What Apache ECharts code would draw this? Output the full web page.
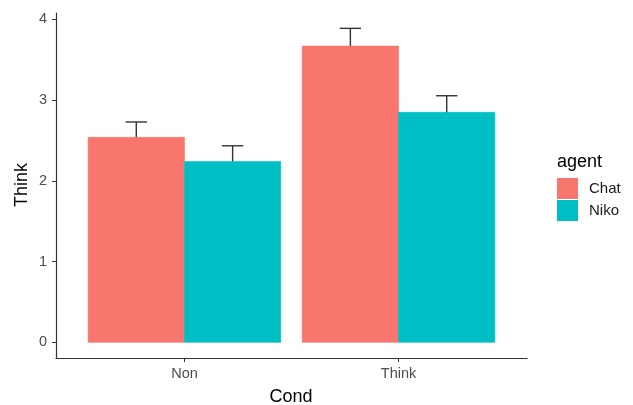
<!DOCTYPE html>
<html>
<head>
<meta charset="utf-8">
<script src="https://cdn.jsdelivr.net/npm/echarts@6/dist/echarts.min.js"></script>
<style>
  html, body { margin: 0; padding: 0; background: #fff; }
  #chart { width: 633px; height: 405px; }
</style>
</head>
<body>
<div id="chart"></div>
<script>
const conds = ['Non', 'Think']
const agents = ['Chat', 'Niko']
const chatMean = [2.54, 3.67]
const nikoMean = [2.24, 2.85]
const chatSe = [0.19, 0.22]
const nikoSe = [0.195, 0.205]
const yTicks = [0, 1, 2, 3, 4]
const xTicks = [1, 2]

const colors = ['#F8766D', '#00BFC4']
const font = '"Liberation Sans", Arial, sans-serif'

const chart = echarts.init(document.getElementById('chart'))

// x is a numeric axis (1 = Non, 2 = Think) padded like ggplot's discrete scale
const barData = (means, ses, side) => means.map((m, i) => [i + 1, m, ses[i], side])

const renderBar = (params, api) => {
  const xi = api.value(0)
  const v = api.value(1)
  const side = api.value(3)
  const unit = api.size([1, 0])[0]
  const xc = api.coord([xi, v])[0] + side * 0.225 * unit
  const top = api.coord([xi, v])[1]
  const base = api.coord([xi, 0])[1]
  const w = 0.45 * unit
  const color = api.visual('color')
  return {
    type: 'rect',
    shape: { x: xc - w / 2, y: top, width: w, height: base - top },
    style: { fill: color, stroke: color, lineWidth: 0.6 }
  }
}

const renderErr = (params, api) => {
  const xi = api.value(0)
  const v = api.value(1)
  const se = api.value(2)
  const side = api.value(3)
  const unit = api.size([1, 0])[0]
  const x = api.coord([xi, v])[0] + side * 0.225 * unit
  const yLow = api.coord([xi, v - se])[1]
  const yHigh = api.coord([xi, v + se])[1]
  const half = 0.05 * unit
  const style = { stroke: '#333333', lineWidth: 1.4 }
  return {
    type: 'group',
    children: [
      { type: 'line', shape: { x1: x, y1: yLow, x2: x, y2: yHigh }, style },
      { type: 'line', shape: { x1: x - half, y1: yHigh, x2: x + half, y2: yHigh }, style },
      { type: 'line', shape: { x1: x - half, y1: yLow, x2: x + half, y2: yLow }, style }
    ]
  }
}

const option = {
  animation: false,
  color: colors,
  textStyle: { fontFamily: font },
  grid: { left: 56, right: 106, top: 13, bottom: 47 },
  legend: {
    data: agents,
    orient: 'vertical',
    left: 557,
    top: 178,
    padding: 0,
    icon: 'rect',
    itemWidth: 21,
    itemHeight: 21,
    itemGap: 1,
    textStyle: { fontSize: 15, color: '#1a1a1a', fontFamily: font, padding: [0, 0, 0, 6] }
  },
  graphic: [
    { type: 'text', left: 557, top: 153, style: { text: 'agent', fontSize: 18, fill: '#000', fontFamily: font } },
    { type: 'text', x: 291, y: 397, style: { text: 'Cond', fontSize: 18, fill: '#000', fontFamily: font, align: 'center', verticalAlign: 'middle' } },
    { type: 'text', x: 22, y: 185, rotation: Math.PI / 2, style: { text: 'Think', fontSize: 18, fill: '#000', fontFamily: font, align: 'center', verticalAlign: 'middle' } }
  ],
  xAxis: {
    type: 'value',
    min: 0.4,
    max: 2.6,
    axisLine: { show: true, onZero: false, lineStyle: { color: '#333333', width: 1.2 } },
    axisTick: { show: true, length: 4, customValues: xTicks, lineStyle: { color: '#333333' } },
    axisLabel: {
      color: '#4D4D4D',
      fontSize: 14.5,
      margin: 8,
      fontFamily: font,
      customValues: xTicks,
      formatter: (v) => conds[Math.round(v) - 1]
    },
    splitLine: { show: false }
  },
  yAxis: {
    type: 'value',
    min: -0.194,
    max: 4.08,
    axisLine: { show: true, lineStyle: { color: '#333333', width: 1.2 } },
    axisTick: { show: true, length: 4, customValues: yTicks, lineStyle: { color: '#333333' } },
    axisLabel: { color: '#4D4D4D', fontSize: 14.5, margin: 9, customValues: yTicks, fontFamily: font },
    splitLine: { show: false }
  },
  series: [
    {
      type: 'custom',
      name: 'errChat',
      renderItem: renderErr,
      data: barData(chatMean, chatSe, -1),
      z: 1,
      silent: true
    },
    {
      type: 'custom',
      name: 'errNiko',
      renderItem: renderErr,
      data: barData(nikoMean, nikoSe, 1),
      z: 1,
      silent: true
    },
    {
      name: 'Chat',
      type: 'custom',
      renderItem: renderBar,
      data: barData(chatMean, chatSe, -1),
      z: 2,
      itemStyle: { color: colors[0] }
    },
    {
      name: 'Niko',
      type: 'custom',
      renderItem: renderBar,
      data: barData(nikoMean, nikoSe, 1),
      z: 2,
      itemStyle: { color: colors[1] }
    }
  ]
}

chart.setOption(option)
</script>
</body>
</html>
